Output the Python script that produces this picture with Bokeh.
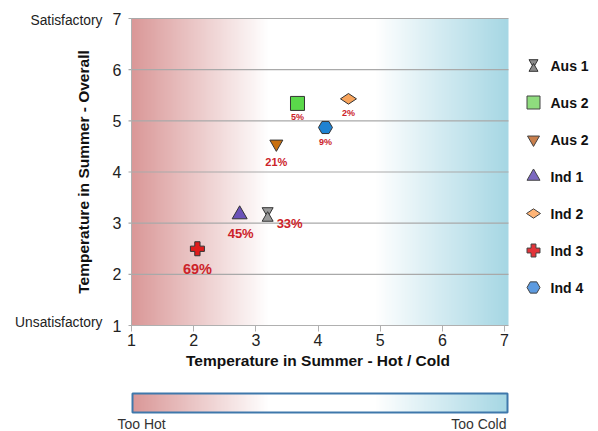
import numpy as np
from bokeh.plotting import figure
from bokeh.models import Range1d, ColumnDataSource
from bokeh.transform import dodge
from bokeh.core.properties import value
from bokeh.embed import file_html
from bokeh.resources import INLINE

# ---------------- data ----------------
series = ["Aus 1", "Aus 2", "Aus 2", "Ind 1", "Ind 2", "Ind 3", "Ind 4"]
hot_cold = [3.19, 3.67, 3.33, 2.74, 4.49, 2.06, 4.12]
overall = [3.17, 5.34, 4.55, 3.17, 5.43, 2.50, 4.87]
share = ["33%", "5%", "21%", "45%", "2%", "69%", "9%"]
x_ticks = [1, 2, 3, 4, 5, 6, 7]
y_ticks = [1, 2, 3, 4, 5, 6, 7]
y_end_labels = ["Unsatisfactory", "Satisfactory"]
scale_ends = ["Too Hot", "Too Cold"]
x_title = "Temperature in Summer - Hot / Cold"
y_title = "Temperature in Summer - Overall"

# ---------------- styles ----------------
markers = ["hourglass", "square", "inverted_triangle", "triangle", "diamond", "plus", "hex"]
fills = ["#9a9a9a", "#5ad84a", "#c9700f", "#6b52b8", "#f8a45c", "#e01b1b", "#1f82d2"]
legend_fills = ["#8c8c8c", "#8fdc7e", "#c97f4c", "#7b68c0", "#ffb577", "#e2343a", "#5d9be0"]
sizes = [10, 14, 13, 15, 16, 14, 14]
legend_sizes = [9, 13, 12, 13, 14, 13, 13]
lab_dx = [22, 0, 0, 1, 0, 0, 0]
lab_dy = [9, 14, 18, 19, 14, 20, 15]
lab_size = ["13px", "9px", "11px", "13px", "9px", "14.5px", "9px"]
FONT = "Liberation Sans"

W, H = 598, 431
FL, FB = 131, 325          # pixel position of x=1 and y=1
PX_X = (504 - 131) / 6.0   # pixels per unit
PX_Y = (325 - 18) / 6.0


def px2x(px):
    return 1 + (px - FL) / PX_X


def px2y(py):
    return 1 + (FB - py) / PX_Y


def gradient(n=400):
    f = np.linspace(0, 1, n)
    red = np.array([218, 152, 152], float)
    blue = np.array([166, 215, 228], float)
    white = np.array([255, 255, 255], float)
    r0, b0 = 0.36, 0.65
    out = np.zeros((n, 3))
    for i, v in enumerate(f):
        if v < r0:
            out[i] = red + (white - red) * (v / r0)
        elif v > b0:
            out[i] = white + (blue - white) * ((v - b0) / (1 - b0))
        else:
            out[i] = white
    img = np.zeros((1, n), dtype=np.uint32)
    view = img.view(dtype=np.uint8).reshape((1, n, 4))
    view[0, :, 0] = out[:, 0]
    view[0, :, 1] = out[:, 1]
    view[0, :, 2] = out[:, 2]
    view[0, :, 3] = 255
    return img


p = figure(width=W, height=H, x_range=Range1d(px2x(0), px2x(W)), y_range=Range1d(px2y(H), px2y(0)),
           output_backend="svg", toolbar_location=None,
           min_border_left=0, min_border_right=0, min_border_top=0, min_border_bottom=0)
p.outline_line_color = None
p.grid.visible = False
p.image_rgba(image=[gradient()], x=1, y=1, dw=px2x(508) - 1, dh=6)

# horizontal grid lines at the y ticks, limited to the chart area
p.segment(x0=[px2x(128)] * len(y_ticks), x1=[px2x(508)] * len(y_ticks), y0=y_ticks, y1=y_ticks,
          line_color="#a9a9a9", line_width=1.2)

for ax in (p.xaxis[0], p.yaxis[0]):
    ax.bounds = (1, 7)
    ax.fixed_location = 1
    ax.axis_line_color = "#b0b0b0"
    ax.major_tick_line_color = "#b0b0b0"
    ax.minor_tick_line_color = None
    ax.major_tick_in = 0
    ax.major_label_text_font = FONT
    ax.major_label_text_font_size = "16px"
    ax.major_label_text_color = "#222222"
    ax.axis_label_text_font = FONT
    ax.axis_label_text_font_style = "bold"
    ax.axis_label_text_font_size = "15.5px"
    ax.axis_label_text_color = "#111111"

p.xaxis.ticker = x_ticks
p.yaxis.ticker = y_ticks
p.xaxis.major_tick_out = 6
p.xaxis.major_label_standoff = 2
p.xaxis.axis_label_standoff = 3
p.xaxis.axis_label = x_title
p.yaxis.major_tick_out = 0
p.yaxis.major_label_standoff = 10
p.yaxis.axis_label_standoff = 18
p.yaxis.axis_label = y_title

p.text(x=[px2x(102)] * 2, y=[y_ticks[0], y_ticks[-1]], text=y_end_labels, text_align="right",
       text_baseline="middle", text_font=value(FONT), text_font_size="13.8px",
       text_color="#222222", y_offset=[-3, 2])

# hourglass (two triangles)
off = 3.6 / PX_Y
src_h = ColumnDataSource(dict(x=[hot_cold[0]], y=[overall[0]]))
p.scatter(x="x", y=dodge("y", off, range=p.y_range), source=src_h, marker="inverted_triangle",
          size=sizes[0] + 1, fill_color=fills[0], line_color="#333333")
p.scatter(x="x", y=dodge("y", -off, range=p.y_range), source=src_h, marker="triangle",
          size=sizes[0] + 1, fill_color=fills[0], line_color="#333333")

src = ColumnDataSource(dict(
    x=hot_cold[1:], y=overall[1:], marker=markers[1:], fill=fills[1:], size=sizes[1:],
    angle=[np.pi / 2 if m == "diamond" else 0 for m in markers[1:]],
))
p.scatter(x="x", y="y", marker="marker", size="size", fill_color="fill", angle="angle",
          line_color="#333333", line_width=1, source=src)

src_t = ColumnDataSource(dict(x=hot_cold, y=overall, text=share, dx=lab_dx, dy=lab_dy, fs=lab_size))
p.text(x="x", y="y", text="text", x_offset="dx", y_offset="dy", text_font_size="fs",
       text_align="center", text_baseline="middle", text_color="#cc2229",
       text_font=value(FONT), text_font_style="bold", source=src_t)

# legend drawn as glyphs
leg_mx = px2x(533)
leg_tx = px2x(550)
leg_y = [px2y(65 + 37 * i) for i in range(len(series))]
src_lh = ColumnDataSource(dict(x=[leg_mx], y=[leg_y[0]]))
offl = 3.2 / PX_Y
p.scatter(x="x", y=dodge("y", offl, range=p.y_range), source=src_lh, marker="inverted_triangle",
          size=legend_sizes[0], fill_color=legend_fills[0], line_color="#333333")
p.scatter(x="x", y=dodge("y", -offl, range=p.y_range), source=src_lh, marker="triangle",
          size=legend_sizes[0], fill_color=legend_fills[0], line_color="#333333")
src_l = ColumnDataSource(dict(
    x=[leg_mx] * (len(series) - 1), y=leg_y[1:], marker=markers[1:], fill=legend_fills[1:],
    size=legend_sizes[1:],
    angle=[np.pi / 2 if m == "diamond" else 0 for m in markers[1:]],
))
p.scatter(x="x", y="y", marker="marker", size="size", fill_color="fill", angle="angle",
          line_color="#444444", line_width=1, source=src_l)
p.text(x=[leg_tx] * len(series), y=leg_y, text=series, text_baseline="middle",
       text_align="left", text_font=value(FONT), text_font_style="bold",
       text_font_size="14px", text_color="#111111")

# ---------------- bottom scale bar ----------------
bl, br, bt, bb = px2x(132), px2x(507), px2y(393), px2y(412)
p.image_rgba(image=[gradient()], x=bl, y=bb, dw=br - bl, dh=bt - bb)
p.quad(left=[bl], right=[br], top=[bt], bottom=[bb], fill_color=None,
       line_color="#3f78ab", line_width=2)
p.text(x=[px2x(117), px2x(506)], y=[px2y(423)] * 2, text=scale_ends,
       text_align=["left", "right"], text_baseline="middle", text_font=value(FONT),
       text_font_size="14px", text_color="#333333")

open("out.html", "w").write(file_html(p, INLINE))
